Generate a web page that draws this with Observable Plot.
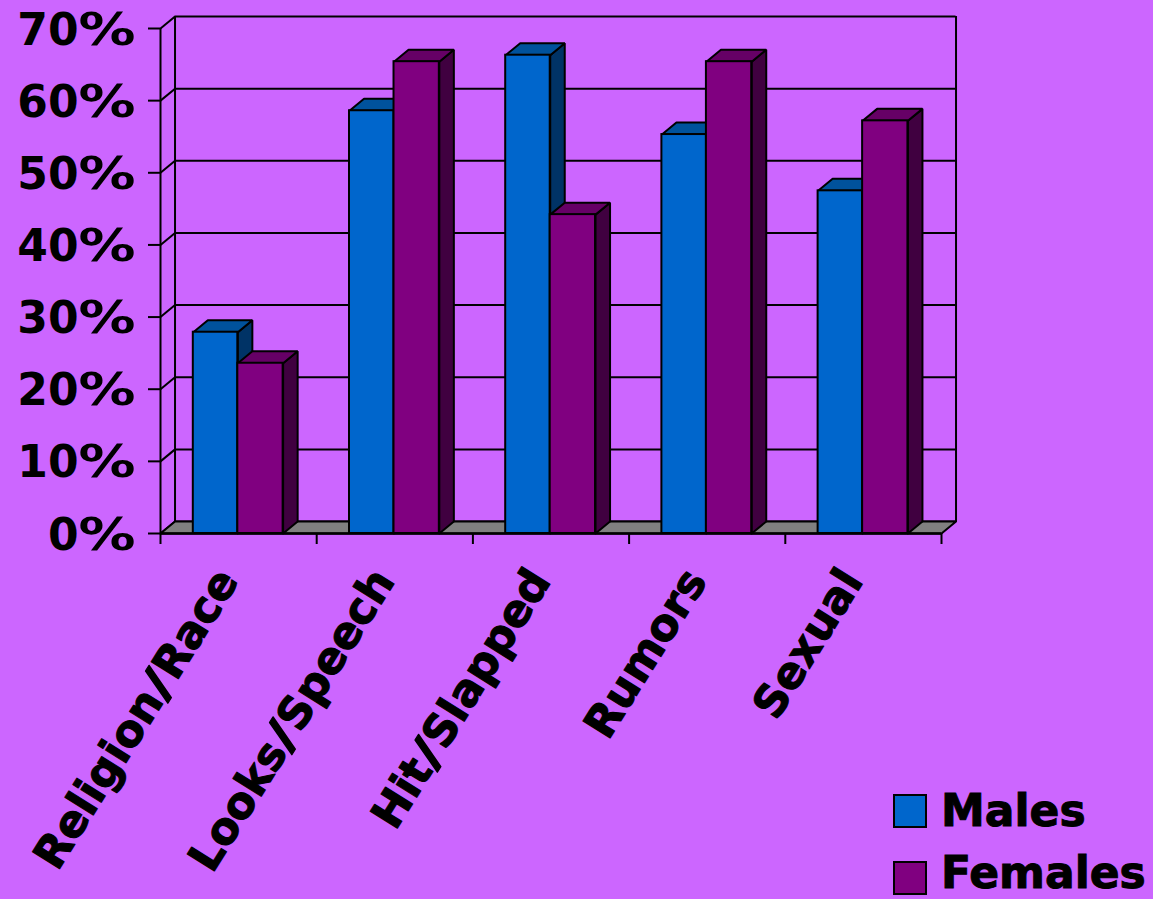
<!DOCTYPE html>
<html>
<head>
<meta charset="utf-8">
<script src="https://cdn.jsdelivr.net/npm/d3@7"></script>
<script src="https://cdn.jsdelivr.net/npm/@observablehq/plot@0.6"></script>
<style>
  html, body { margin: 0; padding: 0; background: #CC66FF; overflow: hidden; }
  #chart { position: relative; width: 1153px; height: 899px; }
  #chart svg { display: block; }
  .legend { position: absolute; left: 893px; top: 777px; font: bold 44px/1 "DejaVu Sans", Verdana, sans-serif; color: #000; -webkit-text-stroke: 1px #000; }
  .legend div { display: flex; align-items: center; height: 67px; white-space: nowrap; }
  .legend i { display: block; box-sizing: border-box; width: 34px; height: 34px; margin-right: 14px; border: 2px solid #000; -webkit-text-stroke: 0; }
  .legend span.low { position: relative; top: -5px; }
</style>
</head>
<body>
<div id="chart">
  <div class="legend">
    <div><i style="background:#0066CC"></i><span>Males</span></div>
    <div><i style="background:#800080"></i><span class="low">Females</span></div>
  </div>
</div>
<script>
const categories = ["Religion/Race", "Looks/Speech", "Hit/Slapped", "Rumors", "Sexual"];
const males = [27.9, 58.6, 66.3, 55.3, 47.5];
const females = [23.6, 65.4, 44.2, 65.4, 57.2];
const yTicks = [0, 10, 20, 30, 40, 50, 60, 70];

// Oblique depth of the 3-D box, in scale units.
const depthX = 0.093;
const depthY = 1.66;

const maleBand = [0.21, 0.495];
const femaleBand = [0.495, 0.785];
const series = [
  {values: males, band: maleBand, front: "#0066CC", top: "#00529C", side: "#003366"},
  {values: females, band: femaleBand, front: "#800080", top: "#660066", side: "#400040"}
];

// Turns a list of corner points into rows for a closed, filled line.
let faceId = 0;
function face(fill, points) {
  const id = faceId++;
  return [...points, points[0]].map(([x, y]) => ({id, fill, x, y}));
}

const faces = [];
const fronts = [];
categories.forEach((name, i) => {
  for (const s of series) {
    const x1 = i + s.band[0], x2 = i + s.band[1], v = s.values[i];
    faces.push(...face(s.side, [[x2, 0], [x2 + depthX, depthY], [x2 + depthX, v + depthY], [x2, v]]));
    faces.push(...face(s.top, [[x1, v], [x1 + depthX, v + depthY], [x2 + depthX, v + depthY], [x2, v]]));
    fronts.push({x1, x2, y: v, fill: s.front});
  }
});

const floor = face("#808080", [[0, 0], [depthX, depthY], [5 + depthX, depthY], [5, 0]]);

const font = '"DejaVu Sans", Verdana, sans-serif';

const plot = Plot.plot({
  width: 1153,
  height: 899,
  marginTop: 28,
  marginBottom: 366,
  marginLeft: 160,
  marginRight: 212,
  style: {background: "transparent", fontFamily: font, fontWeight: "bold", color: "#000", overflow: "visible"},
  x: {domain: [0, 5]},
  y: {domain: [0, 70]},
  marks: [
    // Back wall: gridlines, side diagonals and the two uprights
    Plot.ruleY(yTicks, {
      y: d => d + depthY,
      x1: depthX,
      x2: 5 + depthX,
      stroke: "#000",
      strokeWidth: 2
    }),
    Plot.link(yTicks, {
      x1: 0, y1: d => d,
      x2: depthX, y2: d => d + depthY,
      stroke: "#000",
      strokeWidth: 2
    }),
    Plot.ruleX([depthX, 5 + depthX], {x: d => d, y1: depthY, y2: 70 + depthY, stroke: "#000", strokeWidth: 2}),
    Plot.line(floor, {x: "x", y: "y", z: "id", fill: "fill", stroke: "#000", strokeWidth: 2}),
    Plot.ruleX([0], {y1: 0, y2: 70, stroke: "#000", strokeWidth: 2}),
    // Bar depth faces, painted series by series so the nearer one covers the farther
    Plot.line(faces, {x: "x", y: "y", z: "id", fill: "fill", stroke: "#000", strokeWidth: 2, strokeLinejoin: "miter"}),
    Plot.rect(fronts, {x1: "x1", x2: "x2", y1: 0, y2: "y", fill: "fill", stroke: "#000", strokeWidth: 2, inset: 0}),
    Plot.ruleY([0], {x1: 0, x2: 5, stroke: "#000", strokeWidth: 2.5}),
    // Axes: tick marks first, then the percent labels nudged onto their own baseline
    Plot.axisY({ticks: yTicks, tickSize: 12, tickFormat: () => "", label: null, stroke: "#000", strokeWidth: 2, strokeOpacity: 1}),
    Plot.axisY({ticks: yTicks, tickSize: 0, tickPadding: 25, dy: 2, tickFormat: d => `${d}%`, fontSize: 44, label: null, stroke: "#000", strokeWidth: 1.1, className: "pct"}),
    Plot.axisX({ticks: [0, 1, 2, 3, 4, 5], tickSize: 11, tickFormat: () => "", label: null, stroke: "#000", strokeWidth: 2, strokeOpacity: 1}),
    // Slanted category names
    Plot.text(categories, {
      x: (d, i) => i + 0.5,
      y: 0,
      text: d => d,
      rotate: -58,
      textAnchor: "end",
      dx: -11,
      dy: 40,
      fontSize: 44,
      fontWeight: "bold",
      fill: "#000",
      stroke: "#000",
      strokeWidth: 1.1,
      className: "cat"
    })
  ]
});

// Widens one glyph inside a label so it takes the given advance width.
function widenGlyph(textNode, glyph, width) {
  const content = textNode.textContent;
  const at = content.indexOf(glyph);
  if (at < 0) return;
  const ns = "http://www.w3.org/2000/svg";
  textNode.textContent = "";
  const before = content.slice(0, at), after = content.slice(at + glyph.length);
  if (before) textNode.append(before);
  const span = document.createElementNS(ns, "tspan");
  span.textContent = glyph;
  span.setAttribute("textLength", width);
  span.setAttribute("lengthAdjust", "spacingAndGlyphs");
  textNode.append(span);
  if (after) textNode.append(after);
}

plot.querySelectorAll(".pct text").forEach(t => widenGlyph(t, "%", 57));
plot.querySelectorAll(".cat text").forEach(t => widenGlyph(t, "/", 22));

document.getElementById("chart").prepend(plot);
</script>
</body>
</html>
